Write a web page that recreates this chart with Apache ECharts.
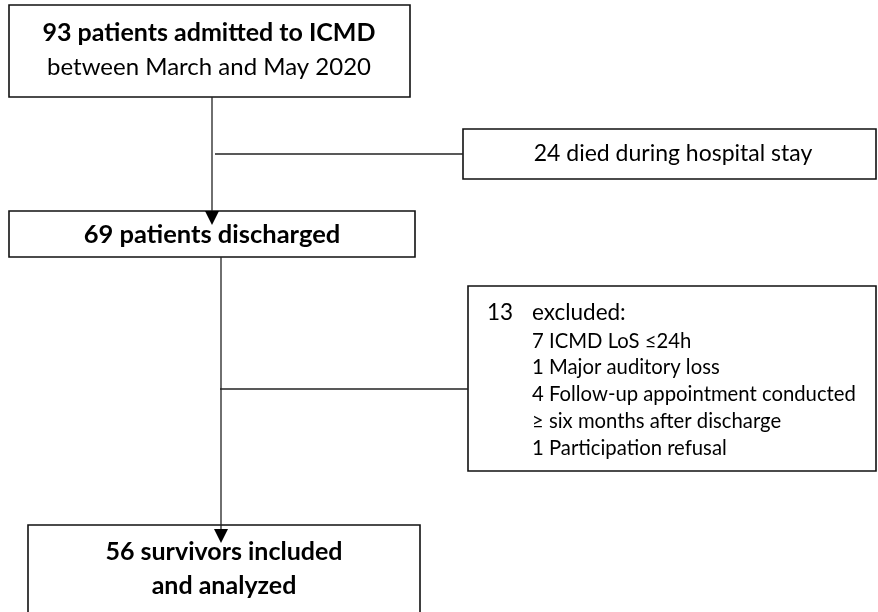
<!DOCTYPE html>
<html><head><meta charset="utf-8">
<script src="https://cdn.jsdelivr.net/npm/echarts@6/dist/echarts.min.js"></script>
<style>html,body{margin:0;padding:0;background:#fff}#c{width:878px;height:612px}</style>
</head><body><div id="c"></div>
<script>
// ---- data ----
const admitted = 93;
const died = 24;
const discharged = 69;
const excluded = 13;
const exclusionCounts = [7, 1, 4, 1];
const exclusionReasons = ['ICMD LoS \u226424h', 'Major auditory loss', 'Follow-up appointment conducted\n\u2265 six months after discharge', 'Participation refusal'];
const included = 56;

const boxTexts = {
  admitted: [admitted + ' patients admitted to ICMD', 'between March and May 2020'],
  died: [died + ' died during hospital stay'],
  discharged: [discharged + ' patients discharged'],
  included: [included + ' survivors included', 'and analyzed']
};

// ---- layout ----
const FONT = 'Lato';
const chart = echarts.init(document.getElementById('c'), null, {renderer: 'canvas'});
const els = [];
function box(x1, y1, x2, y2) {
  els.push({type: 'rect', shape: {x: x1, y: y1, width: x2 - x1, height: y2 - y1},
    style: {fill: '#fff', stroke: '#111', lineWidth: 1.6}, z: 1});
}
function line(x1, y1, x2, y2) {
  els.push({type: 'line', shape: {x1, y1, x2, y2}, style: {stroke: '#222', lineWidth: 1.3}, z: 2});
}
function arrow(x, yBase, yTip) {
  els.push({type: 'polygon', shape: {points: [[x - 7, yBase], [x + 7, yBase], [x, yTip]]},
    style: {fill: '#000'}, z: 3});
}
function text(str, x, y, opts) {
  els.push({type: 'text', x, y, z: 4, style: Object.assign({text: str, fontFamily: FONT,
    fontSize: 24, fill: '#000', align: 'center', verticalAlign: 'middle'}, opts || {})});
}

box(9, 5, 410, 97);
text(boxTexts.admitted[0], 209, 33, {fontWeight: 'bold', fontSize: 25});
text(boxTexts.admitted[1], 209, 67, {fontSize: 24});

box(463, 129, 876, 179);
text(boxTexts.died[0], 673, 154, {fontSize: 23});

box(9, 211, 415, 257);
text(boxTexts.discharged[0], 212, 235, {fontWeight: 'bold', fontSize: 25.5});

box(468, 286, 876, 471);
text(String(excluded), 487, 313, {align: 'left', fontSize: 22.5});
text('excluded:', 532, 313, {align: 'left', fontSize: 22.5});
let lines = [];
exclusionReasons.forEach((r, i) => {
  const parts = r.split('\n');
  lines.push(exclusionCounts[i] + ' ' + parts[0]);
  for (let k = 1; k < parts.length; k++) lines.push(parts[k]);
});
lines.forEach((l, i) => text(l, 532, 341 + i * 26.8, {align: 'left', fontSize: 20.3}));

box(28, 525, 420, 625);
text(boxTexts.included[0], 224, 552, {fontWeight: 'bold', fontSize: 25});
text(boxTexts.included[1], 224, 586, {fontWeight: 'bold', fontSize: 25});

line(212, 97, 212, 212);
arrow(212, 211, 225);
line(215, 154, 463, 154);
line(221, 257, 221, 530);
arrow(221, 529, 543);
line(220, 389, 468, 389);

chart.setOption({animation: false, graphic: {elements: els}});
</script></body></html>
